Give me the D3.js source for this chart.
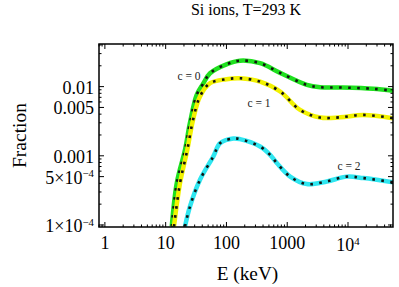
<!DOCTYPE html>
<html>
<head>
<meta charset="utf-8">
<script src="https://cdn.jsdelivr.net/npm/d3@7"></script>
<style>
  body { margin: 0; background: #fff; }
</style>
</head>
<body>
<div id="chart"></div>
<script>
// energies (keV) and fractions
var energyC0 = [12.6, 15.2, 20.8, 25.1, 32.4, 41.1, 53.7, 100, 167, 358, 764, 2100, 3480, 7430, 26000, 55000];
var fracC0   = [9.5e-5, 4.0e-4, 1.22e-3, 3.0e-3, 7.6e-3, 0.0109, 0.0156, 0.021, 0.0237, 0.0218, 0.0158, 0.0106, 0.0098, 0.0097, 0.0093, 0.0087];

var energyC1 = [13.7, 17.2, 22.7, 28.2, 36.7, 53.7, 100, 167, 358, 764, 1630, 3480, 7430, 17800, 55000];
var fracC1   = [9.5e-5, 4.0e-4, 1.22e-3, 3.3e-3, 7.2e-3, 0.0112, 0.0128, 0.0132, 0.0118, 0.0085, 4.6e-3, 3.57e-3, 3.6e-3, 3.9e-3, 3.5e-3];

var energyC2 = [20.8, 25.1, 36.7, 60.9, 78.5, 130, 167, 358, 523, 674, 1117, 2100, 4490, 9590, 18000, 55000];
var fracC2   = [9.5e-5, 1.85e-4, 4.5e-4, 9.8e-4, 1.52e-3, 1.78e-3, 1.74e-3, 1.36e-3, 1.03e-3, 7.85e-4, 5.0e-4, 3.9e-4, 4.26e-4, 5.0e-4, 4.76e-4, 4.15e-4];

var seriesNames = ['c = 0', 'c = 1', 'c = 2'];
var xTickValues = [1, 10, 100, 1000, 10000];
var xTickLabels = ['1', '10', '100', '1000', '10^4'];
var yTickValues = [0.01, 0.005, 0.001, 5e-4, 1e-4];
var yTickLabels = ['0.01', '0.005', '0.001', '5\u00d710^\u22124', '1\u00d710^\u22124'];

var WIDTH = 399, HEIGHT = 287;
var LEFT = 99, RIGHT = 393, TOP = 44, BOTTOM = 227;
var FONT = '"Liberation Serif", "Times New Roman", Times, serif';

var x = d3.scaleLog().domain([0.8, 55000]).range([LEFT, RIGHT]);
var y = d3.scaleLog().domain([9.35e-5, 0.0413]).range([BOTTOM, TOP]);

var svg = d3.select('#chart')
  .append('svg')
    .attr('width', WIDTH)
    .attr('height', HEIGHT)
    .style('font-family', FONT);

svg.append('clipPath').attr('id', 'clip')
  .append('rect')
    .attr('x', LEFT).attr('y', TOP)
    .attr('width', RIGHT - LEFT).attr('height', BOTTOM - TOP);

var series = [
  { e: energyC0, f: fracC0, color: '#1ee01e' },
  { e: energyC1, f: fracC1, color: '#f2f200' },
  { e: energyC2, f: fracC2, color: '#2ee6f0' }
];

var line = d3.line()
  .x(function(d) { return x(d[0]); })
  .y(function(d) { return y(d[1]); })
  .curve(d3.curveCatmullRom.alpha(0.5));

var plot = svg.append('g').attr('clip-path', 'url(#clip)');

series.forEach(function(s) {
  var pts = d3.zip(s.e, s.f);
  plot.append('path')
    .attr('d', line(pts))
    .attr('fill', 'none')
    .attr('stroke', s.color)
    .attr('stroke-width', 4.5);
  plot.append('path')
    .attr('d', line(pts))
    .attr('fill', 'none')
    .attr('stroke', '#111')
    .attr('stroke-width', 2.6)
    .attr('stroke-dasharray', '2.6,6.4');
});

// minor ticks
var xMinor = [];
for (var p = -1; p <= 4; p++) {
  for (var k = 1; k < 10; k++) {
    var v = k * Math.pow(10, p);
    if (v >= 0.8 && v <= 55000) xMinor.push(v);
  }
}
var yMinor = [];
for (var q = -5; q <= -2; q++) {
  for (var m = 1; m < 10; m++) {
    var w = m * Math.pow(10, q);
    if (w >= 9.35e-5 && w <= 0.0413) yMinor.push(w);
  }
}

var ticks = svg.append('g').attr('stroke', '#000').attr('stroke-width', 1);
xMinor.forEach(function(v) {
  var len = xTickValues.indexOf(v) >= 0 ? 5 : 2.5;
  ticks.append('line').attr('x1', x(v)).attr('x2', x(v)).attr('y1', BOTTOM).attr('y2', BOTTOM - len);
  ticks.append('line').attr('x1', x(v)).attr('x2', x(v)).attr('y1', TOP).attr('y2', TOP + len);
});
yMinor.forEach(function(v) {
  var major = yTickValues.some(function(t) { return Math.abs(t - v) / v < 1e-6; });
  var len = major ? 5 : 2.5;
  ticks.append('line').attr('y1', y(v)).attr('y2', y(v)).attr('x1', LEFT).attr('x2', LEFT + len);
  ticks.append('line').attr('y1', y(v)).attr('y2', y(v)).attr('x1', RIGHT).attr('x2', RIGHT - len);
});

// frame
svg.append('rect')
  .attr('x', LEFT).attr('y', TOP)
  .attr('width', RIGHT - LEFT).attr('height', BOTTOM - TOP)
  .attr('fill', 'none')
  .attr('stroke', '#000')
  .attr('stroke-width', 1.5);

// label with optional superscript ("base^sup")
function addLabel(g, str, px, py, anchor, size) {
  var parts = str.split('^');
  var t = g.append('text')
    .attr('x', px).attr('y', py)
    .attr('text-anchor', anchor)
    .attr('font-size', size)
    .attr('font-family', FONT)
    .attr('fill', '#000');
  t.append('tspan').text(parts[0]);
  if (parts.length > 1) {
    t.append('tspan').attr('font-size', size * 0.6).attr('dy', -size * 0.36).text(parts[1]);
  }
  return t;
}

var labels = svg.append('g');
xTickValues.forEach(function(v, i) {
  var sup = xTickLabels[i].indexOf('^') >= 0;
  addLabel(labels, xTickLabels[i], x(v), sup ? 251 : 249, 'middle', 18);
});
yTickValues.forEach(function(v, i) {
  addLabel(labels, yTickLabels[i], 94, y(v) + 7, 'end', 18);
});

svg.append('text')
  .attr('x', (LEFT + RIGHT) / 2).attr('y', 14.5)
  .attr('text-anchor', 'middle')
  .attr('font-size', 16)
  .attr('font-family', FONT)
  .text('Si ions, T=293 K');

svg.append('text')
  .attr('x', 247.5).attr('y', 280)
  .attr('text-anchor', 'middle')
  .attr('font-size', 19.3)
  .attr('font-family', FONT)
  .text('E (keV)');

svg.append('text')
  .attr('transform', 'translate(26,135.5) rotate(-90)')
  .attr('text-anchor', 'middle')
  .attr('font-size', 19.5)
  .attr('font-family', FONT)
  .text('Fraction');

// curve labels
var labelPos = [[189, 79.5], [259, 107], [349, 170]];
seriesNames.forEach(function(n, i) {
  svg.append('text')
    .attr('x', labelPos[i][0]).attr('y', labelPos[i][1])
    .attr('text-anchor', 'middle')
    .attr('font-size', 11.5)
    .attr('font-family', FONT)
    .attr('fill', '#222')
    .text(n);
});
</script>
</body>
</html>
